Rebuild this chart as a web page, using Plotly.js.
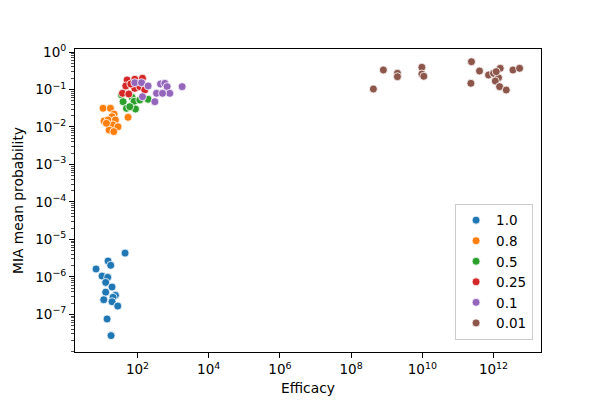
<!DOCTYPE html>
<html>
<head>
<meta charset="utf-8">
<script src="https://cdn.plot.ly/plotly-3.0.1.min.js"></script>
<style>html,body{margin:0;padding:0;background:#fff;}#chart{width:600px;height:400px;}</style>
</head>
<body>
<div id="chart"></div>
<script>
var seriesNames = ["1.0", "0.8", "0.5", "0.25", "0.1", "0.01"];

var blueX = [44.8, 14.9, 17.7, 6.86, 10.1, 14.6, 12.8, 19.3, 12.8, 24.0, 20.6, 11.3, 19.3, 27.9, 14.0, 18.1];
var blueY = [4.3e-6, 2.64e-6, 2.03e-6, 1.62e-6, 1.05e-6, 9.7e-7, 7.1e-7, 5.35e-7, 3.9e-7, 3.2e-7, 2.84e-7, 2.45e-7, 2.17e-7, 1.66e-7, 7.5e-8, 2.7e-8];

var orangeX = [10.8, 17.4, 22.0, 19.3, 54.4, 11.5, 14.9, 24.0, 20.6, 28.4, 15.9, 21.6, 13.4];
var orangeY = [0.0314, 0.0314, 0.0221, 0.0188, 0.0181, 0.0144, 0.0153, 0.0153, 0.0113, 0.0101, 0.0083, 0.0075, 0.0125];

var greenX = [35.5, 39.4, 70.5, 80.2, 49.1, 87.8, 199, 60.6, 116];
var greenY = [0.0712, 0.0472, 0.0618, 0.0483, 0.0314, 0.0301, 0.0547, 0.0347, 0.0524];

var redX = [51.0, 84.0, 138, 46.9, 84.0, 116, 37.9, 56.9, 64.9, 160];
var redY = [0.179, 0.187, 0.199, 0.124, 0.107, 0.119, 0.079, 0.0757, 0.140, 0.0968];

var purpleX = [84.0, 130, 199, 138, 307, 342, 443, 586, 680, 809, 505, 1795];
var purpleY = [0.152, 0.152, 0.124, 0.0641, 0.0472, 0.079, 0.140, 0.146, 0.119, 0.079, 0.079, 0.119];

var brownX = [4.22e8, 8.06e8, 2.0e9, 2.0e9, 9.7e9, 9.7e9, 1.1e10, 2.40e11, 4.04e11, 2.31e11, 7.23e11, 1.0e12, 1.54e12, 1.38e12, 1.12e12, 1.48e12, 2.28e12, 3.51e12, 5.39e12, 1.19e12];
var brownY = [0.103, 0.331, 0.270, 0.219, 0.391, 0.259, 0.225, 0.551, 0.311, 0.146, 0.243, 0.270, 0.367, 0.206, 0.168, 0.119, 0.0968, 0.331, 0.367, 0.299];

var xTickVals = [1e2, 1e4, 1e6, 1e8, 1e10, 1e12];
var xTickText = ["10<sup>2</sup>", "10<sup>4</sup>", "10<sup>6</sup>", "10<sup>8</sup>", "10<sup>10</sup>", "10<sup>12</sup>"];
var yTickVals = [1, 1e-1, 1e-2, 1e-3, 1e-4, 1e-5, 1e-6, 1e-7];
var yTickText = ["10<sup>0</sup>", "10<sup>\u22121</sup>", "10<sup>\u22122</sup>", "10<sup>\u22123</sup>", "10<sup>\u22124</sup>", "10<sup>\u22125</sup>", "10<sup>\u22126</sup>", "10<sup>\u22127</sup>"];

var colors = ["#1f77b4", "#ff7f0e", "#2ca02c", "#d62728", "#9467bd", "#8c564b"];
var xs = [blueX, orangeX, greenX, redX, purpleX, brownX];
var ys = [blueY, orangeY, greenY, redY, purpleY, brownY];

var traces = [];
for (var i = 0; i < seriesNames.length; i++) {
  traces.push({
    type: "scatter", mode: "markers", name: seriesNames[i],
    x: xs[i], y: ys[i],
    marker: {color: colors[i], size: 8, line: {color: "#ffffff", width: 0.8}}
  });
}

var font = {family: "DejaVu Sans, sans-serif", size: 13, color: "#000"};

var layout = {
  width: 600, height: 400,
  margin: {l: 75, r: 59, t: 49, b: 48, pad: 0},
  paper_bgcolor: "#fff", plot_bgcolor: "#fff",
  font: font,
  showlegend: true,
  xaxis: {
    type: "log", range: [0.245, 13.333],
    tickmode: "array", tickvals: xTickVals, ticktext: xTickText,
    ticks: "outside", ticklen: 5, tickwidth: 1, tickcolor: "#000",
    showgrid: false, zeroline: false,
    showline: true, linecolor: "#000", linewidth: 1, mirror: true,
    tickfont: {family: "DejaVu Sans, sans-serif", size: 13.5},
    title: {text: "Efficacy", font: {family: "DejaVu Sans, sans-serif", size: 13.8}, standoff: 7}
  },
  yaxis: {
    type: "log", range: [-8.006, 0.08],
    tickmode: "array", tickvals: yTickVals, ticktext: yTickText,
    ticks: "outside", ticklen: 5, tickwidth: 1, tickcolor: "#000",
    minor: {ticks: "outside", ticklen: 3, tickwidth: 0.7, tickcolor: "#000", dtick: "D1", showgrid: false},
    showgrid: false, zeroline: false,
    showline: true, linecolor: "#000", linewidth: 1, mirror: true,
    tickfont: {family: "DejaVu Sans, sans-serif", size: 13.5},
    title: {text: "MIA mean probability", font: {family: "DejaVu Sans, sans-serif", size: 13.8}, standoff: 8}
  },
  legend: {
    x: 0.983, y: 0.04, xanchor: "right", yanchor: "bottom",
    bgcolor: "rgba(255,255,255,0.8)", bordercolor: "#cccccc", borderwidth: 1,
    font: {family: "DejaVu Sans, sans-serif", size: 13.5},
    tracegroupgap: 0
  }
};

Plotly.newPlot("chart", traces, layout, {displayModeBar: false, staticPlot: true});
</script>
</body>
</html>
